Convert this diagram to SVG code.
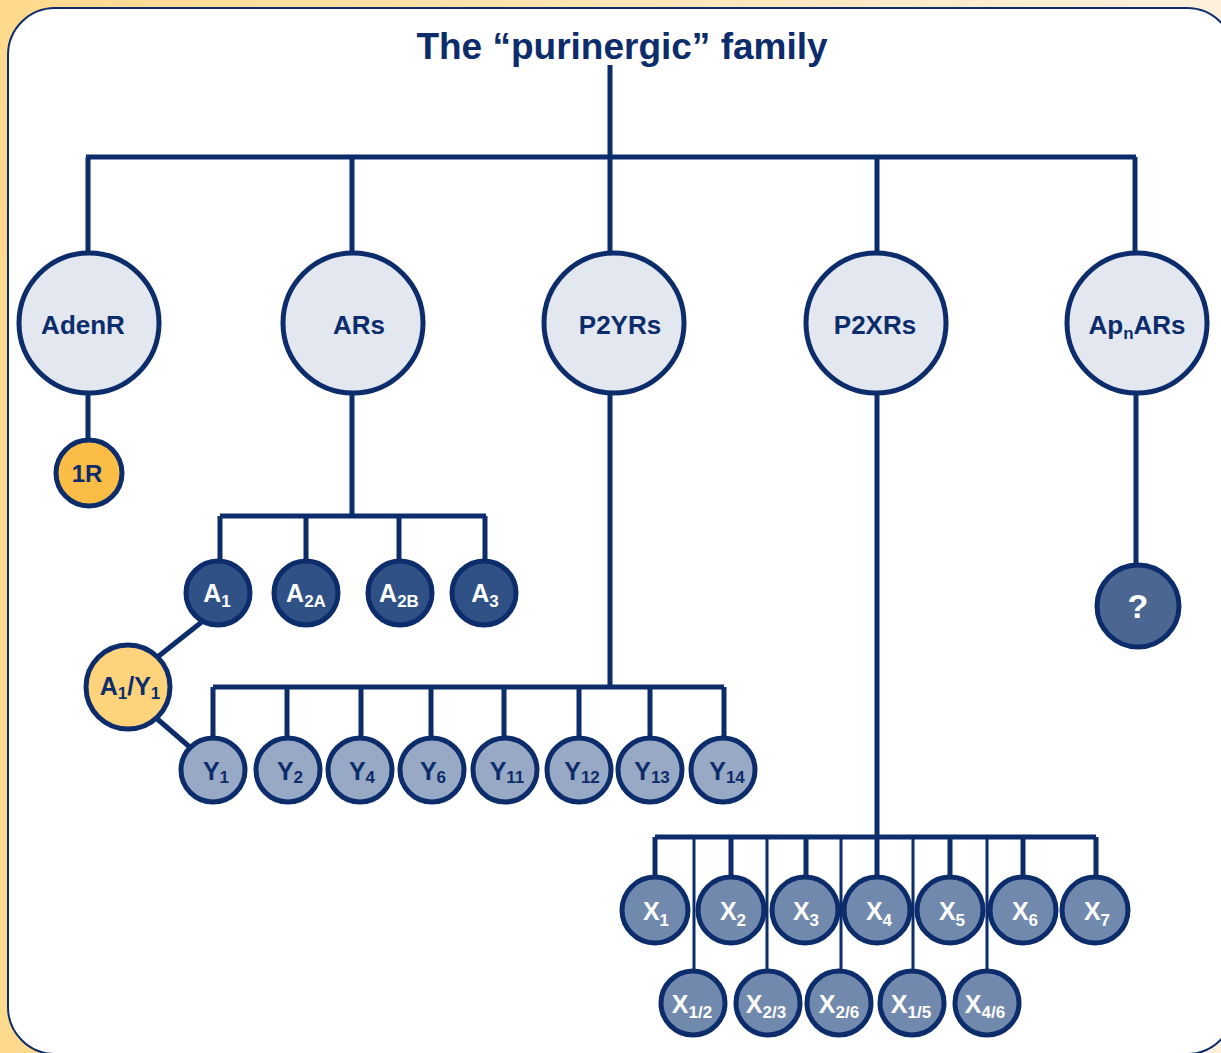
<svg xmlns="http://www.w3.org/2000/svg" width="1221" height="1053" viewBox="0 0 1221 1053">
<defs>
<linearGradient id="bg" x1="0" y1="0" x2="1" y2="0">
<stop offset="0" stop-color="#ffd98c"/>
<stop offset="1" stop-color="#fdf1de"/>
</linearGradient>
<style>
text{font-family:"Liberation Sans",Arial,sans-serif;font-weight:bold;text-anchor:middle}
.c{stroke:#0c2c6b;stroke-width:5}
.big{fill:#e3e8f0}
.r1{fill:#fbbd45}
.a{fill:#2f5185}
.ay{fill:#fdd47b}
.y{fill:#98a9c5}
.x{fill:#7189ad}
.q{fill:#4b6690}
.lb{font-size:26px;fill:#0c2c6b}
.lw{font-size:25px;fill:#ffffff}
.ln{font-size:25px;fill:#0c2c6b}
.sub{font-size:17px}
.e{fill:none;stroke:#0c2c6b;stroke-width:5}
.t{fill:none;stroke:#0c2c6b;stroke-width:3}
</style>
</defs>
<rect x="0" y="0" width="1221" height="1053" fill="url(#bg)"/>
<rect x="8" y="8" width="1226" height="1046" rx="47" ry="47" fill="#ffffff" stroke="#0c2c6b" stroke-width="2"/>
<text x="622" y="59" style="font-size:37px;fill:#0c2c6b">The “purinergic” family</text>
<g id="connectors">
<path class="e" d="M610 65V157M86 157H1136M88 157V255M352 157V255M610 157V255M877 157V255M1135 157V255"/>
<path class="e" d="M88 390V440"/>
<path class="e" d="M352 390V516M220 516H486M220 516V560M306 516V560M399 516V560M485 516V560"/>
<path class="e" d="M208 617L155 659M155 717L192 749"/>
<path class="e" d="M610 390V687M213 687H724M213 687V737M287 687V737M361 687V737M431 687V737M504 687V737M579 687V737M650 687V737M724 687V737"/>
<path class="e" d="M877 390V837M655 837H1096M655 837V877M731 837V877M806 837V877M877 837V877M950 837V877M1023 837V877M1096 837V877"/>
<path class="t" d="M694 837V970M767 837V970M841 837V970M913 837V970M987 837V970"/>
<path class="e" d="M1136 390V565"/>
</g>
<g id="AdenR"><circle class="c big" cx="89" cy="323" r="70"/><text class="lb" x="83" y="334">AdenR</text></g>
<g id="ARs"><circle class="c big" cx="353" cy="323" r="70"/><text class="lb" x="359" y="334">ARs</text></g>
<g id="P2YRs"><circle class="c big" cx="614" cy="323" r="70"/><text class="lb" x="620" y="334">P2YRs</text></g>
<g id="P2XRs"><circle class="c big" cx="876" cy="323" r="70"/><text class="lb" x="875" y="334">P2XRs</text></g>
<g id="ApnARs"><circle class="c big" cx="1137" cy="323" r="70"/><text class="lb" x="1137" y="334">Ap<tspan class="sub" dy="5">n</tspan><tspan dy="-5">ARs</tspan></text></g>
<g id="n1R"><circle class="c r1" cx="89" cy="473" r="33"/><text class="ln" x="87" y="482" style="font-size:24px">1R</text></g>
<g id="A1"><circle class="c a" cx="218" cy="593" r="32"/><text class="lw" x="217" y="602">A<tspan class="sub" dy="5">1</tspan></text></g>
<g id="A2A"><circle class="c a" cx="306" cy="593" r="32"/><text class="lw" x="306" y="602">A<tspan class="sub" dy="5">2A</tspan></text></g>
<g id="A2B"><circle class="c a" cx="400" cy="593" r="32"/><text class="lw" x="399" y="602">A<tspan class="sub" dy="5">2B</tspan></text></g>
<g id="A3"><circle class="c a" cx="484" cy="593" r="32"/><text class="lw" x="485" y="602">A<tspan class="sub" dy="5">3</tspan></text></g>
<g id="A1Y1"><circle class="c ay" cx="128" cy="687" r="42"/><text class="ln" x="130" y="695">A<tspan class="sub" dy="4">1</tspan><tspan dy="-4">/Y</tspan><tspan class="sub" dy="4">1</tspan></text></g>
<g id="Y1"><circle class="c y" cx="213" cy="770" r="32"/><text class="ln" x="216" y="780">Y<tspan class="sub" dy="3">1</tspan></text></g>
<g id="Y2"><circle class="c y" cx="288" cy="770" r="32"/><text class="ln" x="290" y="780">Y<tspan class="sub" dy="3">2</tspan></text></g>
<g id="Y4"><circle class="c y" cx="360" cy="770" r="32"/><text class="ln" x="362" y="780">Y<tspan class="sub" dy="3">4</tspan></text></g>
<g id="Y6"><circle class="c y" cx="432" cy="770" r="32"/><text class="ln" x="433" y="780">Y<tspan class="sub" dy="3">6</tspan></text></g>
<g id="Y11"><circle class="c y" cx="505" cy="770" r="32"/><text class="ln" x="507" y="780">Y<tspan class="sub" dy="3">11</tspan></text></g>
<g id="Y12"><circle class="c y" cx="579" cy="770" r="32"/><text class="ln" x="582" y="780">Y<tspan class="sub" dy="3">12</tspan></text></g>
<g id="Y13"><circle class="c y" cx="650" cy="770" r="32"/><text class="ln" x="652" y="780">Y<tspan class="sub" dy="3">13</tspan></text></g>
<g id="Y14"><circle class="c y" cx="723" cy="770" r="32"/><text class="ln" x="727" y="780">Y<tspan class="sub" dy="3">14</tspan></text></g>
<g id="X1"><circle class="c x" cx="655" cy="910" r="33"/><text class="lw" x="656" y="920">X<tspan class="sub" dy="6">1</tspan></text></g>
<g id="X2"><circle class="c x" cx="731" cy="910" r="33"/><text class="lw" x="733" y="920">X<tspan class="sub" dy="6">2</tspan></text></g>
<g id="X3"><circle class="c x" cx="805" cy="910" r="33"/><text class="lw" x="806" y="920">X<tspan class="sub" dy="6">3</tspan></text></g>
<g id="X4"><circle class="c x" cx="877" cy="910" r="33"/><text class="lw" x="879" y="920">X<tspan class="sub" dy="6">4</tspan></text></g>
<g id="X5"><circle class="c x" cx="950" cy="910" r="33"/><text class="lw" x="952" y="920">X<tspan class="sub" dy="6">5</tspan></text></g>
<g id="X6"><circle class="c x" cx="1023" cy="910" r="33"/><text class="lw" x="1025" y="920">X<tspan class="sub" dy="6">6</tspan></text></g>
<g id="X7"><circle class="c x" cx="1095" cy="910" r="33"/><text class="lw" x="1097" y="920">X<tspan class="sub" dy="6">7</tspan></text></g>
<g id="X12"><circle class="c x" cx="693" cy="1003" r="32"/><text class="lw" x="692" y="1013">X<tspan class="sub" dy="5">1/2</tspan></text></g>
<g id="X23"><circle class="c x" cx="768" cy="1003" r="32"/><text class="lw" x="766" y="1013">X<tspan class="sub" dy="5">2/3</tspan></text></g>
<g id="X26"><circle class="c x" cx="839" cy="1003" r="32"/><text class="lw" x="839" y="1013">X<tspan class="sub" dy="5">2/6</tspan></text></g>
<g id="X15"><circle class="c x" cx="912" cy="1003" r="32"/><text class="lw" x="911" y="1013">X<tspan class="sub" dy="5">1/5</tspan></text></g>
<g id="X46"><circle class="c x" cx="987" cy="1003" r="32"/><text class="lw" x="985" y="1013">X<tspan class="sub" dy="5">4/6</tspan></text></g>
<g id="Q"><circle class="c q" cx="1138" cy="606" r="41"/><text class="lw" x="1138" y="618" style="font-size:34px">?</text></g>
</svg>
